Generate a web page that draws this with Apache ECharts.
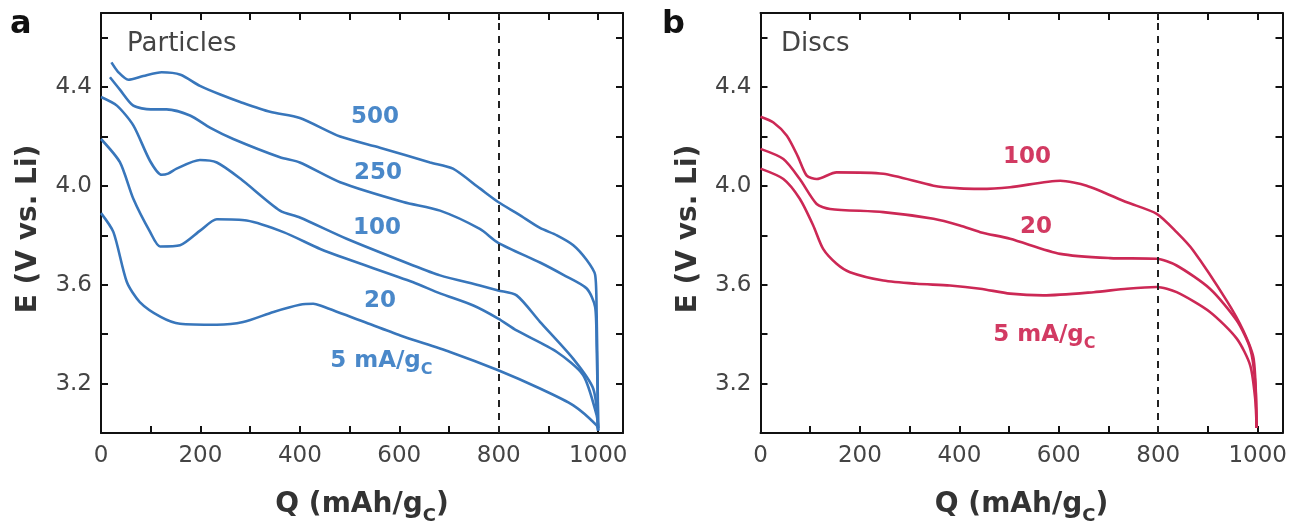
<!DOCTYPE html>
<html>
<head>
<meta charset="utf-8">
<script src="https://cdn.jsdelivr.net/npm/echarts@6/dist/echarts.min.js"></script>
<style>
  html, body { margin: 0; padding: 0; background: #fff; }
  #chart { width: 1301px; height: 525px; }
</style>
</head>
<body>
<div id="chart"></div>
<script>
// tick labels
var qTicks = [0, 200, 400, 600, 800, 1000];
var eTicks = [3.2, 3.6, 4.0, 4.4];

// panel a : particles  [Q (mAh/gC), E (V vs Li)]
var particles500 = [[21,4.50],[35,4.46],[55,4.43],[85,4.445],[122,4.46],[160,4.45],[199,4.405],[240,4.37],[280,4.34],[340,4.30],[400,4.275],[481,4.20],[561,4.155],[662,4.095],[708,4.07],[762,3.99],[799,3.935],[840,3.885],[883,3.83],[917,3.80],[950,3.76],[977,3.70],[994,3.64],[997,3.48],[999,3.2],[1000,3.01]];
var particles250 = [[18,4.44],[38,4.39],[65,4.325],[100,4.31],[132,4.31],[179,4.285],[220,4.235],[266,4.19],[360,4.116],[400,4.095],[481,4.015],[608,3.935],[682,3.90],[762,3.826],[799,3.77],[883,3.69],[930,3.64],[977,3.585],[994,3.51],[997,3.35],[999,3.15],[1000,3.01]];
var particles100 = [[0,4.36],[32,4.325],[65,4.245],[99,4.10],[122,4.045],[135,4.05],[152,4.07],[199,4.105],[233,4.095],[280,4.03],[360,3.90],[400,3.872],[494,3.786],[628,3.678],[682,3.638],[762,3.597],[799,3.577],[836,3.557],[883,3.45],[950,3.30],[990,3.18],[1000,3.02]];
var particles20 = [[0,4.19],[38,4.096],[65,3.948],[99,3.813],[119,3.755],[159,3.76],[200,3.82],[233,3.865],[293,3.86],[367,3.813],[441,3.745],[494,3.705],[628,3.61],[682,3.565],[749,3.516],[799,3.463],[836,3.415],[917,3.328],[970,3.234],[997,3.072],[1000,3.02]];
var particles5 = [[0,3.89],[25,3.813],[52,3.611],[78,3.53],[120,3.47],[159,3.442],[233,3.438],[286,3.449],[347,3.49],[400,3.519],[427,3.523],[441,3.516],[535,3.445],[602,3.395],[702,3.328],[799,3.254],[883,3.18],[950,3.112],[997,3.031],[1000,3.01]];

// panel b : discs
var discs100 = [[0,4.28],[26,4.257],[53,4.203],[75,4.12],[93,4.042],[113,4.028],[153,4.055],[247,4.049],[348,4.001],[401,3.99],[442,3.988],[502,3.995],[603,4.021],[656,4.001],[737,3.934],[797,3.887],[837,3.813],[870,3.74],[938,3.535],[971,3.415],[992,3.30],[998,3.02]];
var discs20 = [[0,4.15],[46,4.109],[79,4.028],[113,3.927],[140,3.907],[247,3.894],[348,3.867],[401,3.84],[442,3.813],[502,3.786],[603,3.725],[703,3.708],[797,3.705],[837,3.678],[904,3.584],[958,3.455],[985,3.342],[995,3.207],[998,3.02]];
var discs5 = [[0,4.07],[46,4.028],[79,3.948],[106,3.84],[126,3.745],[153,3.685],[180,3.651],[247,3.617],[314,3.604],[381,3.597],[442,3.584],[502,3.564],[569,3.557],[670,3.57],[737,3.584],[797,3.591],[837,3.57],[904,3.49],[958,3.382],[985,3.274],[995,3.14],[998,3.02]];

// curve labels (grid, Q, E, text)
var notes = [
	[0, 551, 4.279, '500'],
	[0, 557, 4.053, '250'],
	[0, 555, 3.830, '100'],
	[0, 561, 3.535, '20'],
	[0, 461, 3.293, '5 mA/g{sub|C}'],
	[1, 536, 4.117, '100'],
	[1, 554, 3.834, '20'],
	[1, 468, 3.398, '5 mA/g{sub|C}']
];

var blue = '#3876bb';
var red = '#cc2855';
var tickFont = 'DejaVu Sans';

function xAxisOf(grid, pos) {
	var bottom = pos == 'bottom';
	return {
		type: 'value', gridIndex: grid, position: pos,
		min: 0, max: 1050, interval: 100,
		name: bottom ? 'Q (mAh/g{sub|C})' : '',
		nameLocation: 'middle', nameGap: 52,
		nameTextStyle: {
			fontFamily: tickFont, fontWeight: 'bold', fontSize: 28, color: '#333', lineHeight: 40,
			rich: { sub: { fontFamily: tickFont, fontWeight: 'bold', fontSize: 18, color: '#333', lineHeight: 18, verticalAlign: 'bottom' } }
		},
		axisLine: { show: true, onZero: false, lineStyle: { color: '#111', width: 2 } },
		axisTick: { show: true, inside: true, length: 7, lineStyle: { color: '#111', width: 2 } },
		axisLabel: {
			show: bottom, margin: 12, fontFamily: tickFont, fontSize: 23, color: '#444',
			formatter: function(v) { return qTicks.indexOf(v) >= 0 ? String(v) : ''; }
		},
		splitLine: { show: false }
	};
}

function yAxisOf(grid, pos) {
	var left = pos == 'left';
	return {
		type: 'value', gridIndex: grid, position: pos,
		min: 3.0, max: 4.7, interval: 0.2,
		name: left ? 'E (V vs. Li)' : '',
		nameLocation: 'middle', nameRotate: 90, nameGap: 58,
		nameTextStyle: { fontFamily: tickFont, fontWeight: 'bold', fontSize: 28, color: '#333', padding: [0, 12, 0, 0] },
		axisLine: { show: true, onZero: false, lineStyle: { color: '#111', width: 2 } },
		axisTick: { show: true, inside: true, length: 7, lineStyle: { color: '#111', width: 2 } },
		axisLabel: {
			show: left, margin: 9, fontFamily: tickFont, fontSize: 23, color: '#444',
			formatter: function(v) {
				var r = Math.round(v * 10) / 10;
				return eTicks.indexOf(r) >= 0 ? r.toFixed(1) : '';
			}
		},
		splitLine: { show: false }
	};
}

function curve(name, data, color, axis, withLine) {
	var s = {
		name: name, type: 'line', data: data,
		xAxisIndex: axis, yAxisIndex: axis,
		showSymbol: false, smooth: 0.25,
		lineStyle: { color: color, width: 2.6 },
		silent: true, z: 3
	};
	if (withLine) {
		// dashed marker at 800 mAh/gC
		s.markLine = {
			silent: true, symbol: ['none', 'none'],
			label: { show: false },
			lineStyle: { color: '#222', type: [7, 6], width: 2 },
			data: [{ xAxis: 800 }]
		};
	}
	return s;
}

var chart = echarts.init(document.getElementById('chart'));
var option = {
	animation: false,
	backgroundColor: '#fff',
	grid: [
		{ left: 101, top: 13, width: 522, height: 420, outerBoundsMode: 'none', containLabel: false },
		{ left: 760.5, top: 13, width: 522, height: 420, outerBoundsMode: 'none', containLabel: false }
	],
	xAxis: [xAxisOf(0, 'bottom'), xAxisOf(1, 'bottom'), xAxisOf(0, 'top'), xAxisOf(1, 'top')],
	yAxis: [yAxisOf(0, 'left'), yAxisOf(1, 'left'), yAxisOf(0, 'right'), yAxisOf(1, 'right')],
	series: [
		curve('500', particles500, blue, 0, true),
		curve('250', particles250, blue, 0),
		curve('100', particles100, blue, 0),
		curve('20', particles20, blue, 0),
		curve('5', particles5, blue, 0),
		curve('100', discs100, red, 1, true),
		curve('20', discs20, red, 1),
		curve('5', discs5, red, 1)
	]
};
chart.setOption(option);

// panel letters, titles and curve labels
var graphics = [
	{ type: 'text', x: 10, y: 25, style: { text: 'a', fontFamily: tickFont, fontWeight: 'bold', fontSize: 32, fill: '#111', verticalAlign: 'middle' } },
	{ type: 'text', x: 127, y: 44, style: { text: 'Particles', fontFamily: tickFont, fontSize: 26, fill: '#444', verticalAlign: 'middle' } },
	{ type: 'text', x: 662, y: 25, style: { text: 'b', fontFamily: tickFont, fontWeight: 'bold', fontSize: 32, fill: '#111', verticalAlign: 'middle' } },
	{ type: 'text', x: 781, y: 44, style: { text: 'Discs', fontFamily: tickFont, fontSize: 26, fill: '#444', verticalAlign: 'middle' } }
];
for (var i = 0; i < notes.length; i++) {
	var n = notes[i];
	var p = chart.convertToPixel({ gridIndex: n[0] }, [n[1], n[2]]);
	var isLong = n[3].indexOf('mA') >= 0;
	var col = n[0] == 0 ? '#4a88c9' : '#d23a62';
	graphics.push({
		type: 'text', x: p[0], y: p[1], z: 10,
		style: {
			text: n[3], fill: col, fontFamily: tickFont, fontWeight: 'bold', fontSize: 23,
			align: isLong ? 'left' : 'center', verticalAlign: 'middle', lineHeight: 34,
			rich: { sub: { fill: col, fontFamily: tickFont, fontWeight: 'bold', fontSize: 16, lineHeight: 16, verticalAlign: 'bottom' } }
		}
	});
}
chart.setOption({ graphic: graphics });
</script>
</body>
</html>
